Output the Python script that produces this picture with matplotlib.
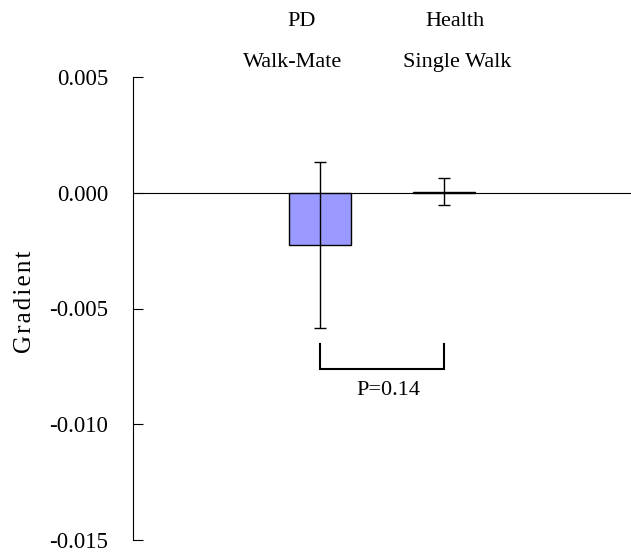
import matplotlib.pyplot as plt
import numpy as np

plt.rcParams['font.family'] = ['Liberation Serif', 'DejaVu Serif']

groups_top = ['PD', 'Health']
groups_bottom = ['Walk-Mate', 'Single Walk']
means = [-0.00225, 0.00004]
errors = [0.00358, 0.00058]
bar_colors = ['#9999FF', '#FFFFFF']
p_text = 'P=0.14'

W, H = 631, 553
fig = plt.figure(figsize=(W / 100, H / 100), dpi=100)
ax = fig.add_axes([133 / W, 1 - 540 / H, 498 / W, 463 / H])

pos = np.array([1.5, 2.5])
ax.bar(pos, means, width=0.5, color=bar_colors, edgecolor='black', linewidth=1.0, zorder=2)
ax.errorbar(pos, means, yerr=errors, fmt='none', ecolor='black', elinewidth=1.0,
            capsize=4.5, capthick=1.0, zorder=3)
ax.axhline(0, color='black', linewidth=0.8, zorder=1)

ax.set_xlim(0, 4)
ax.set_ylim(-0.015, 0.005)
ax.set_yticks([0.005, 0.0, -0.005, -0.010, -0.015])
ax.set_yticklabels(['0.005', '0.000', '-0.005', '-0.010', '-0.015'], fontsize=16.5)
ax.tick_params(axis='y', direction='in', length=7, width=0.8, pad=18)
ax.set_xticks([])
for s in ['top', 'right', 'bottom']:
    ax.spines[s].set_visible(False)
ax.spines['left'].set_linewidth(0.8)

# letter-spaced axis label
ax.set_ylabel('\u200a'.join('Gradient'), fontsize=18, va='center')
ax.yaxis.set_label_coords(-108 / 498, 0.5 + (540 - 302) / 463 - 0.5)

# group labels above the plot
for x, y, t in [(302, 21, groups_top[0]), (455, 21, groups_top[1]),
                (293, 63, groups_bottom[0]), (457, 63, groups_bottom[1])]:
    fig.text(x / W, 1 - y / H, t, ha='center', va='center', fontsize=16)

# significance bracket
by_top, by_bot = -0.00655, -0.0076
ax.plot([pos[0], pos[0], pos[1], pos[1]], [by_top, by_bot, by_bot, by_top],
        color='black', linewidth=1.5, solid_joinstyle='miter')
ax.text(pos.mean() + 0.05, -0.00855, p_text, ha='center', va='center', fontsize=16)

fig.savefig('out.png', dpi=100)
